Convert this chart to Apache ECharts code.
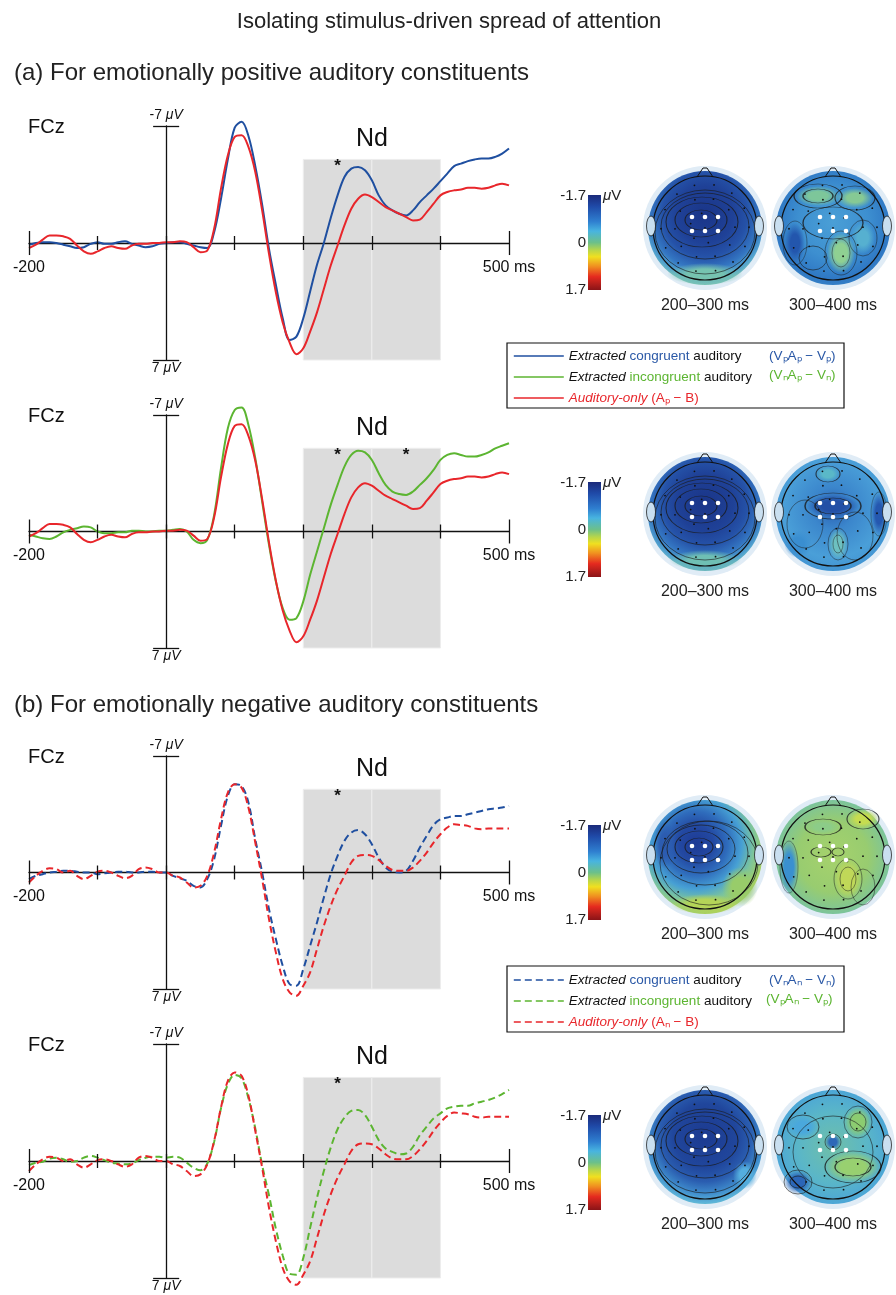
<!DOCTYPE html>
<html><head><meta charset="utf-8">
<script src="https://cdn.jsdelivr.net/npm/echarts@6/dist/echarts.min.js"></script>
<style>html,body{margin:0;padding:0;background:#fff}#c{width:896px;height:1295px}</style>
</head><body><div id="c"></div>
<script>
// ---------- DATA ----------
const times = [-200,-190,-180,-170,-160,-150,-140,-130,-120,-110,-100,-90,-80,-70,-60,-50,-40,-30,-20,-10,0,10,20,30,40,50,60,70,80,90,100,110,120,130,140,150,160,170,180,190,200,210,220,230,240,250,260,270,280,290,300,310,320,330,340,350,360,370,380,390,400,410,420,430,440,450,460,470,480,490,500];
// (a) Extracted congruent auditory (VpAp - Vp), µV
const posCong = [0.1,0.0,-0.05,-0.05,0.0,0.1,0.2,0.3,0.25,0.05,
 -0.05,0.05,0.05,-0.05,-0.1,0.05,0.15,0.25,0.2,0.05,
 0.0,-0.05,-0.05,0.05,0.15,0.25,0.3,-0.65,-2.65,-5.0,
 -6.9,-7.25,-6.4,-4.6,-2.3,0.35,2.5,4.5,5.8,5.6,
 4.5,2.9,1.3,0.0,-1.5,-2.85,-3.95,-4.45,-4.55,-4.35,
 -3.75,-2.85,-2.25,-1.95,-1.75,-1.65,-1.95,-2.45,-2.85,-3.25,
 -3.7,-4.15,-4.6,-4.75,-4.9,-5.0,-5.05,-5.05,-5.15,-5.35,
 -5.65];
// (a) Extracted incongruent auditory (VnAp - Vn)
const posIncong = [0.2,0.3,0.4,0.45,0.3,0.05,-0.1,-0.2,-0.3,-0.25,
 0.0,0.1,0.1,0.05,0.05,-0.05,-0.05,0.0,0.0,-0.05,
 -0.05,-0.1,-0.15,0.0,0.5,0.7,0.5,-1.0,-3.8,-6.2,
 -7.3,-7.45,-6.4,-4.4,-1.8,0.8,3.0,4.6,5.3,5.2,
 4.2,2.6,1.2,-0.2,-1.6,-2.8,-3.9,-4.6,-4.85,-4.75,
 -4.3,-3.5,-2.8,-2.4,-2.25,-2.2,-2.4,-2.8,-3.2,-3.7,
 -4.3,-4.6,-4.7,-4.6,-4.5,-4.5,-4.6,-4.75,-5.0,-5.15,
 -5.3];
// (a) Auditory-only (Ap - B)
const posAud = [0.3,0.1,-0.2,-0.45,-0.45,-0.4,-0.25,0.15,0.5,0.65,
 0.5,0.3,0.2,0.3,0.35,0.15,0.05,0.05,0.0,0.0,
 -0.05,-0.05,-0.1,-0.05,0.25,0.55,0.45,-0.85,-3.25,-5.25,
 -6.35,-6.45,-5.75,-4.25,-1.95,0.65,2.95,4.75,5.95,6.65,
 6.3,5.3,4.15,2.75,1.35,0.15,-1.05,-2.05,-2.65,-2.9,
 -2.75,-2.45,-2.15,-1.95,-1.75,-1.55,-1.35,-1.4,-1.85,-2.35,
 -2.85,-3.05,-3.15,-3.2,-3.3,-3.3,-3.25,-3.3,-3.45,-3.55,
 -3.45];
// (b) Extracted congruent auditory (VnAn - Vn)
const negCong = [0.4,0.2,0.1,0.0,-0.05,-0.1,-0.1,-0.05,0.0,0.0,
 0.1,0.05,0.0,-0.05,-0.05,0.0,0.0,-0.05,-0.05,0.0,
 0.0,0.2,0.35,0.5,0.8,0.9,0.4,-0.8,-2.8,-4.6,
 -5.3,-5.2,-4.2,-2.0,0.0,2.2,4.0,5.6,6.7,6.8,
 5.8,4.4,3.0,1.5,0.1,-1.0,-1.9,-2.4,-2.55,-2.3,
 -1.7,-0.9,-0.3,-0.05,0.0,-0.1,-0.7,-1.5,-2.2,-2.85,
 -3.2,-3.3,-3.4,-3.4,-3.5,-3.6,-3.7,-3.8,-3.85,-3.9,
 -4.0];
// (b) Extracted incongruent auditory (VpAn - Vp)
const negIncong = [0.25,0.1,0.05,-0.15,-0.2,-0.1,0.05,0.0,-0.2,-0.3,
 -0.2,-0.05,0.1,0.15,0.2,0.15,-0.05,-0.2,-0.25,-0.25,
 -0.2,-0.25,-0.2,0.1,0.4,0.55,0.15,-1.15,-3.15,-4.6,
 -5.15,-4.95,-3.75,-1.95,0.25,2.05,4.05,5.65,6.75,6.8,
 5.8,4.0,2.2,0.6,-0.8,-1.9,-2.6,-3.0,-3.05,-2.75,
 -2.05,-1.25,-0.75,-0.55,-0.4,-0.45,-0.85,-1.55,-2.05,-2.55,
 -2.85,-3.15,-3.25,-3.3,-3.3,-3.45,-3.55,-3.65,-3.8,-4.0,
 -4.25];
// (b) Auditory-only (An - B)
const negAud = [0.6,0.2,-0.1,-0.25,-0.2,0.0,-0.1,0.2,0.4,0.2,
 -0.05,-0.1,0.0,0.2,0.35,0.2,-0.2,-0.3,-0.2,0.0,
 0.0,0.2,0.3,0.6,0.9,0.8,0.2,-1.2,-3.2,-4.8,
 -5.3,-5.1,-3.9,-1.8,0.4,2.8,4.8,6.4,7.2,7.4,
 6.8,6.0,4.6,3.2,2.0,1.0,0.2,-0.6,-1.0,-1.05,
 -1.0,-0.75,-0.4,-0.15,-0.1,-0.1,-0.3,-0.7,-1.2,-1.8,
 -2.3,-2.7,-2.9,-2.85,-2.8,-2.65,-2.6,-2.65,-2.65,-2.65,
 -2.65];
const xTicks = [-200,-100,0,100,200,300,400,500];
const xTickLabels = {'-200':'-200', '500':'500 ms'};
const yTicks = [-7,7];
const ndWindows = [[200,300],[300,400]];
const ndRange = [-5,7.5];
const starTimes = [[250],[250,350],[250],[250]];
const colorbarTicks = ['-1.7','0','1.7'];
const topoLabels = ['200\u2013300 ms','300\u2013400 ms'];

// ---------- STYLE ----------
const FONT = '"Liberation Sans", Arial, sans-serif';
const BLUE = '#1f4fa0', GREEN = '#5cb531', RED = '#e8262b', INK = '#111';

const panels = [
  {top:126, h:234, dashed:false, lines:[['a-cong',posCong,BLUE],['a-aud',posAud,RED]]},
  {top:415, h:233, dashed:false, lines:[['a-incong',posIncong,GREEN],['a-aud',posAud,RED]]},
  {top:756, h:233, dashed:true,  lines:[['b-cong',negCong,BLUE],['b-aud',negAud,RED]]},
  {top:1044,h:234, dashed:true,  lines:[['b-incong',negIncong,GREEN],['b-aud',negAud,RED]]}
];

const grid = [], xAxis = [], yAxis = [], series = [];
panels.forEach((p, i) => {
  grid.push({left:29, width:480, top:p.top, height:p.h});
  xAxis.push({type:'value', gridIndex:i, min:-200, max:500, interval:100, z:2,
    axisLine:{onZero:true, lineStyle:{color:INK, width:1.3}},
    axisTick:{show:false}, splitLine:{show:false}, axisLabel:{show:false}});
  yAxis.push({type:'value', gridIndex:i, min:-7, max:7, inverse:true, z:2,
    axisLine:{show:true, onZero:true, lineStyle:{color:INK, width:1.3}},
    axisTick:{show:false}, axisLabel:{show:false}, splitLine:{show:false}});
  const tickData = xTicks.map(t => {
    const h = (t === -200 || t === 500) ? 0.72 : 0.42;
    return [{coord:[t,-h]},{coord:[t,h]}];
  }).concat(yTicks.map(v => [{coord:[-19,v]},{coord:[19,v]}]));
  const mp = [
    {coord:[0,-7], label:{position:'top', distance:3, formatter:'-7 {i|\u03bcV}'}},
    {coord:[0,7], label:{position:'bottom', distance:1, formatter:'7 {i|\u03bcV}'}},
    {coord:[300,-6.2], label:{position:'inside', fontSize:25, formatter:'Nd'}}
  ].concat(starTimes[i].map(t => ({coord:[t,-4.6], label:{position:'inside', fontSize:17, fontWeight:'bold', formatter:'*'}})))
   .concat(Object.keys(xTickLabels).map(k => ({coord:[+k,0], label:{position:'bottom', distance:16, fontSize:16, formatter:xTickLabels[k]}})));
  series.push({type:'line', xAxisIndex:i, yAxisIndex:i, data:[], z:1, clip:false, silent:true,
    markArea:{silent:true, z:1, label:{show:false}, itemStyle:{color:'#dcdcdc', borderColor:'#ededed', borderWidth:1},
      data: ndWindows.map(w => [{coord:[w[0],ndRange[0]]},{coord:[w[1],ndRange[1]]}])},
    markLine:{silent:true, symbol:['none','none'], label:{show:false}, animation:false,
      lineStyle:{color:INK, width:1.3, type:'solid'}, emphasis:{disabled:true}, data:tickData},
    markPoint:{silent:true, symbol:'circle', symbolSize:1, itemStyle:{color:'rgba(0,0,0,0)'}, animation:false,
      label:{show:true, color:INK, fontSize:14, fontFamily:FONT,
        rich:{i:{fontStyle:'italic', fontSize:14, fontFamily:FONT, color:INK}}},
      data: mp}
  });
  p.lines.forEach(l => {
    series.push({type:'line', name:l[0], xAxisIndex:i, yAxisIndex:i, z:3, clip:false, silent:true,
      symbol:'none', smooth:0.35,
      lineStyle:{color:l[2], width:2, type: p.dashed ? [7,4] : 'solid'}, itemStyle:{color:l[2]},
      data: times.map((t, k) => [t, l[1][k]])});
  });
});

const legendText = {
  'a-cong':'{it|Extracted} {bl|congruent} {k|auditory}',
  'a-incong':'{it|Extracted} {gr|incongruent} {k|auditory}',
  'a-aud':'{ri|Auditory-only} {r|(A\u209a \u2212 B)}',
  'b-cong':'{it|Extracted} {bl|congruent} {k|auditory}',
  'b-incong':'{it|Extracted} {gr|incongruent} {k|auditory}',
  'b-aud':'{ri|Auditory-only} {r|(A\u2099 \u2212 B)}'
};
const LF = 13.5;
const rich = {
  it:{fontStyle:'italic', color:INK, fontSize:LF, fontFamily:FONT},
  bl:{color:'#2a58a6', fontSize:LF, fontFamily:FONT},
  gr:{color:GREEN, fontSize:LF, fontFamily:FONT},
  k:{color:INK, fontSize:LF, fontFamily:FONT},
  ri:{fontStyle:'italic', color:RED, fontSize:LF, fontFamily:FONT},
  r:{color:RED, fontSize:LF, fontFamily:FONT}
};
function mkLegend(names, top) {
  return {orient:'vertical', left:513, top:top, itemWidth:50, itemHeight:12, itemGap:7, padding:0,
    selectedMode:false, data:names, formatter:n => legendText[n],
    itemStyle:{opacity:0}, lineStyle:{width:1.6},
    textStyle:{fontSize:LF, fontFamily:FONT, color:INK, rich:rich}};
}

// ---------- GRAPHICS (titles, topographic maps, colour bars) ----------
const G = [];
function txt(text, x, y, size, opt) {
  opt = opt || {};
  G.push({type:'text', z:10, style:Object.assign({text:text, x:x, y:y, fill:opt.fill||'#222',
    fontSize:size, fontFamily:FONT, fontStyle:opt.italic?'italic':'normal',
    align:opt.align||'left', textAlign:opt.align||'left', verticalAlign:'middle', textVerticalAlign:'middle'},
    opt.rich ? {rich:opt.rich} : {})});
}
txt('Isolating stimulus-driven spread of attention', 449, 22, 22, {align:'center'});
txt('(a) For emotionally positive auditory constituents', 14, 73, 24);
txt('(b) For emotionally negative auditory constituents', 14, 705, 24);
panels.forEach(p => txt('FCz', 28, p.top + 1, 20, {fill:INK}));

// legend frames + formulas
G.push({type:'rect', z:10, shape:{x:507, y:343, width:337, height:65}, style:{fill:'none', stroke:INK, lineWidth:1.2}});
G.push({type:'rect', z:10, shape:{x:507, y:966, width:337, height:66}, style:{fill:'none', stroke:INK, lineWidth:1.2}});
txt('(V\u209aA\u209a \u2212 V\u209a)', 769, 356, LF, {fill:'#2a58a6'});
txt('(V\u2099A\u209a \u2212 V\u2099)', 769, 375, LF, {fill:GREEN});
txt('(V\u2099A\u2099 \u2212 V\u2099)', 769, 980, LF, {fill:'#2a58a6'});
txt('(V\u209aA\u2099 \u2212 V\u209a)', 766, 999, LF, {fill:GREEN});

function tr(hex) {
  const n = parseInt(hex.slice(1), 16);
  return 'rgba(' + (n >> 16) + ',' + ((n >> 8) & 255) + ',' + (n & 255) + ',0)';
}
function head(cx, cy, sp) {
  G.push({type:'circle', z:5, shape:{cx:cx, cy:cy, r:62}, style:{fill:'#e0ecf6'}});
  G.push({type:'circle', z:5, shape:{cx:cx, cy:cy, r:57}, style:{fill:{type:'radial', x:sp.gx||0.5, y:sp.gy||0.42, r:0.62,
    colorStops: sp.stops.map(s => ({offset:s[0], color:s[1]}))}}});
  sp.patches.forEach(q => G.push({type:'circle', z:5, x:cx+q[0], y:cy+q[1], scaleX:q[2]/q[3], shape:{cx:0, cy:0, r:q[3]},
    style:{fill:{type:'radial', x:0.5, y:0.5, r:0.5, colorStops:[{offset:0,color:q[4]},{offset:0.45,color:q[4]},{offset:1,color:tr(q[4])}]}}}));
  sp.contours.forEach(c => G.push({type:'circle', z:5, x:cx+c[0], y:cy+c[1], scaleX:c[2]/c[3], shape:{cx:0, cy:0, r:c[3]},
    style:{fill:'none', stroke:'#1a1a1a', lineWidth:0.7, strokeNoScale:true, opacity:0.8}}));
  [[0,1],[15,6],[30,10],[44,14]].forEach(rg => {
    for (let k = 0; k < rg[1]; k++) {
      const a = (k / rg[1]) * Math.PI * 2 + rg[0] * 0.02;
      G.push({type:'circle', z:5, shape:{cx:cx + rg[0]*Math.cos(a), cy:cy + rg[0]*Math.sin(a), r:0.9}, style:{fill:'#111'}});
    }
  });
  G.push({type:'circle', z:5, shape:{cx:cx, cy:cy, r:52}, style:{fill:'none', stroke:'#111', lineWidth:1.2}});
  G.push({type:'polyline', z:5, shape:{points:[[cx-8,cy-51],[cx-2,cy-60],[cx+2,cy-60],[cx+8,cy-51]]}, style:{fill:'none', stroke:'#111', lineWidth:1}});
  [-1, 1].forEach(s => G.push({type:'circle', z:5, x:cx + s*54, y:cy - 2, scaleX:0.45, shape:{cx:0, cy:0, r:10},
    style:{fill:'#c9dff0', stroke:'#111', lineWidth:1, strokeNoScale:true}}));
  [-13,0,13].forEach(dx => [-11,3].forEach(dy => G.push({type:'circle', z:6, shape:{cx:cx+dx, cy:cy+dy, r:2.3}, style:{fill:'#fff'}})));
}
const darkStops = [[0,'#1a3588'],[0.4,'#1f4197'],[0.6,'#2552a8'],[0.78,'#3476c2'],[0.9,'#52a3cf'],[1,'#7cc4b4']];
const H1contours = [[-4,-8,16,10],[-4,-8,26,17],[-3,-6,36,25],[0,-2,44,33],[0,4,50,42]];
const topo = [
  [{gy:0.38, stops:darkStops, patches:[[0,46,38,11,'#76c3b0']], contours:H1contours},
   {gy:0.45, stops:[[0,'#4a9fd6'],[0.5,'#3d8fd0'],[0.8,'#2f78c4'],[1,'#3a88c8']],
    patches:[[-15,-32,22,10,'#7dc69a'],[22,-30,18,10,'#86c994'],[8,25,14,20,'#8fd092'],[-38,15,10,20,'#2356ad'],[30,10,12,16,'#56b0d0']],
    contours:[[-15,-32,24,12],[-15,-32,15,7],[22,-30,20,12],[8,25,16,22],[8,25,9,14],[-38,15,12,22],[0,-5,30,16],[30,10,14,18],[-20,30,14,12]]}],
  [{gy:0.4, stops:darkStops, patches:[[0,46,36,10,'#6fbfb4']], contours:H1contours},
   {gy:0.45, stops:[[0,'#2a5fb2'],[0.3,'#3b86cc'],[0.7,'#4a9fd8'],[1,'#3e8fd0']],
    patches:[[0,-8,26,11,'#2350a6'],[46,0,8,22,'#2558b0'],[-5,-40,12,8,'#5ab8c8'],[5,30,10,16,'#6dc0c0'],[-35,30,14,14,'#3a8ed0']],
    contours:[[0,-8,28,13],[0,-8,18,8],[46,0,8,22],[-5,-40,12,8],[5,30,10,16],[5,30,5,9],[-28,10,18,24],[22,22,18,24]]}],
  [{gx:0.42, gy:0.38, stops:[[0,'#1d3a94'],[0.25,'#2349a2'],[0.45,'#2f6cbc'],[0.65,'#47a0d4'],[0.82,'#7cc49c'],[1,'#a8d060']],
    patches:[[35,30,18,20,'#98cc6a'],[0,47,34,10,'#b4d458'],[-40,-12,11,24,'#2c5cb0']],
    contours:[[-6,-10,14,9],[-6,-10,24,16],[-4,-8,34,24],[0,-4,43,32],[4,6,49,42]]},
   {gy:0.5, stops:[[0,'#a6d26c'],[0.5,'#98cc70'],[0.8,'#7cc49a'],[1,'#4aa6d6']],
    patches:[[-44,10,10,28,'#3a90d0'],[30,-38,16,10,'#c6dc50'],[15,22,14,20,'#c0d858'],[-10,-30,18,8,'#8ccc88']],
    contours:[[15,22,14,20],[15,22,8,12],[-44,10,9,26],[30,-38,16,10],[-10,-30,18,8],[-12,-5,10,5],[5,-5,6,4],[30,30,12,18]]}],
  [{gy:0.4, stops:[[0,'#1c3a90'],[0.45,'#20469c'],[0.65,'#2a5db0'],[0.82,'#3f8ccc'],[0.95,'#5cb4d8'],[1,'#6cc0c8']],
    patches:[[40,28,12,14,'#54aede']], contours:H1contours},
   {gy:0.5, stops:[[0,'#6fbfa8'],[0.5,'#5ab6c8'],[0.85,'#4aa4d8'],[1,'#4aa6d6']],
    patches:[[25,-25,14,16,'#8ccc70'],[20,20,28,16,'#98d070'],[-35,35,14,12,'#2b66b8'],[-30,-20,16,12,'#4aa8dc'],[0,-5,8,8,'#2e68b8']],
    contours:[[25,-25,14,16],[25,-25,8,9],[20,20,28,16],[20,20,18,9],[-35,35,14,12],[-35,35,8,6],[0,-5,8,8],[-30,-20,16,12],[0,5,40,36]]}]
];
const headCY = [228, 514, 857, 1147];
const barTop = [195, 482, 825, 1115];
const barStops = [[0,'#1b2a7a'],[0.12,'#1f4aa8'],[0.28,'#2f7fd0'],[0.38,'#48b4e0'],[0.5,'#6cc08a'],[0.58,'#b8d64a'],[0.65,'#f0e020'],[0.75,'#f09020'],[0.86,'#e52a1f'],[1,'#8a1418']];
headCY.forEach((cy, r) => {
  head(705, cy, topo[r][0]);
  head(833, cy, topo[r][1]);
  txt(topoLabels[0], 705, cy + 78, 16, {align:'center'});
  txt(topoLabels[1], 833, cy + 78, 16, {align:'center'});
  const t = barTop[r];
  G.push({type:'rect', z:5, shape:{x:588, y:t, width:13, height:95},
    style:{fill:{type:'linear', x:0, y:0, x2:0, y2:1, colorStops: barStops.map(s => ({offset:s[0], color:s[1]}))}}});
  txt(colorbarTicks[0], 586, t + 1, 15, {align:'right'});
  txt(colorbarTicks[1], 586, t + 48, 15, {align:'right'});
  txt(colorbarTicks[2], 586, t + 95, 15, {align:'right'});
  txt('{i|\u03bc}V', 603, t + 1, 15, {rich:{i:{fontStyle:'italic', fontSize:15, fontFamily:FONT, fill:'#222', color:'#222'}}});
});

const chart = echarts.init(document.getElementById('c'), null, {renderer:'canvas'});
chart.setOption({
  animation:false,
  backgroundColor:'#fff',
  grid:grid, xAxis:xAxis, yAxis:yAxis, series:series,
  legend:[mkLegend(['a-cong','a-incong','a-aud'], 349), mkLegend(['b-cong','b-incong','b-aud'], 973)],
  graphic:{elements:G}
});
</script></body></html>
